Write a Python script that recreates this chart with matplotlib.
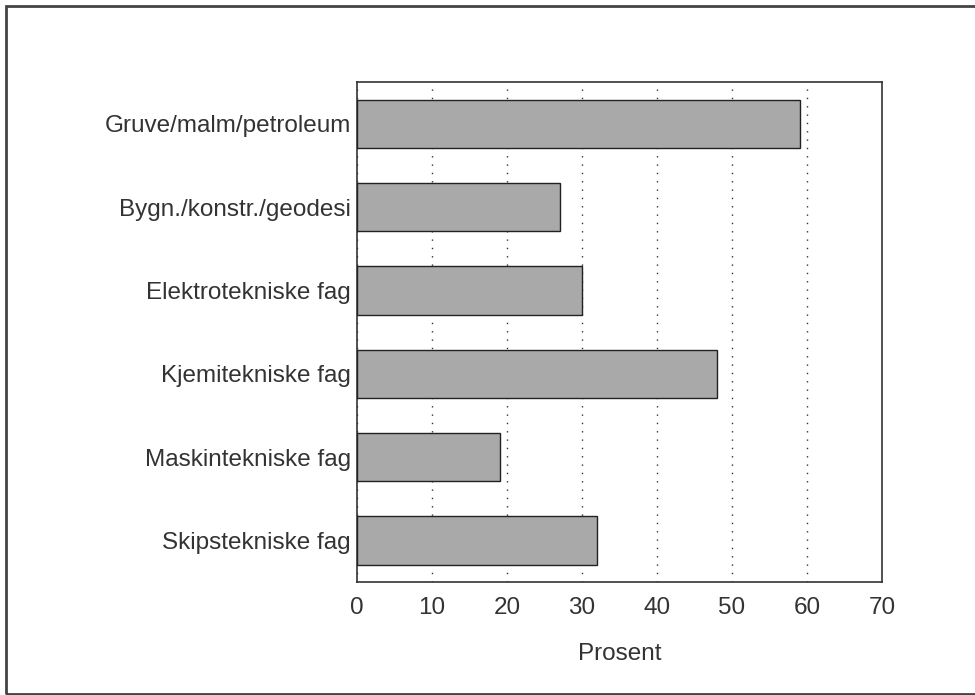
import matplotlib
matplotlib.use('Agg')
import matplotlib.pyplot as plt
from matplotlib.patches import Rectangle

plt.rcParams['font.family'] = ['Liberation Sans', 'DejaVu Sans']

# Data
categories = [
    'Gruve/malm/petroleum',
    'Bygn./konstr./geodesi',
    'Elektrotekniske fag',
    'Kjemitekniske fag',
    'Maskintekniske fag',
    'Skipstekniske fag',
]
values = [59, 27, 30, 48, 19, 32]
x_ticks = [0, 10, 20, 30, 40, 50, 60, 70]

fig = plt.figure(figsize=(9.75, 6.95), dpi=100)
ax = fig.add_axes([357 / 975, 113 / 695, 525 / 975, 500 / 695])

pos = list(range(len(categories)))
ax.barh(pos, values, height=0.58, color='#a9a9a9', edgecolor='#222222',
        linewidth=1.0, zorder=3)

ax.set_ylim(len(categories) - 0.5, -0.5)
ax.set_xlim(0, 70)
ax.set_xticks(x_ticks)
ax.set_yticks(pos)
ax.set_yticklabels(categories)
ax.tick_params(length=0, labelsize=17.5, colors='#333333')
ax.tick_params(axis='y', pad=4.5)
ax.tick_params(axis='x', pad=11)
ax.xaxis.grid(True, linestyle=(0, (1, 5)), color='#333333', linewidth=1.0, zorder=1)
ax.set_xlabel('Prosent', fontsize=17.5, color='#333333', labelpad=17)
for s in ax.spines.values():
    s.set_color('#333333')
    s.set_linewidth(1.2)

# outer frame round the whole chart
fig.patches.append(Rectangle((6, 1), 975, 688, transform=None, fill=False,
                             edgecolor='#444444', linewidth=2.0))

fig.savefig('out.png', dpi=100)
